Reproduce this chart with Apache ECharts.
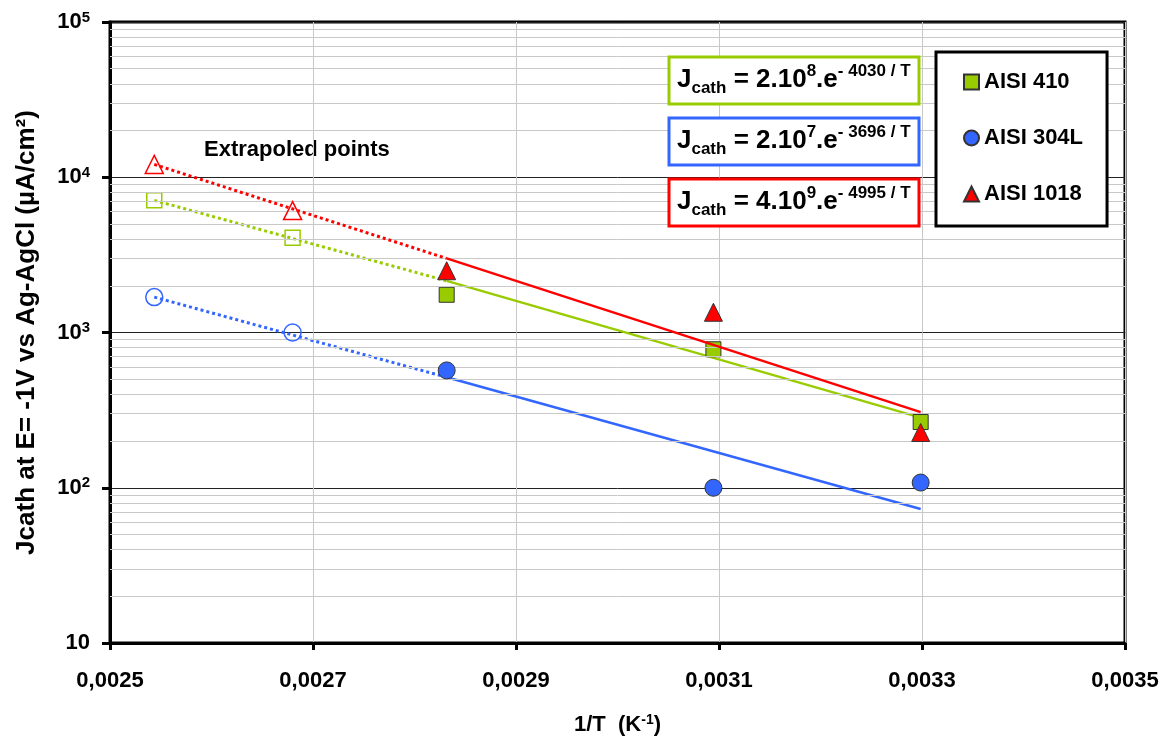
<!DOCTYPE html>
<html>
<head>
<meta charset="utf-8">
<script src="https://cdn.jsdelivr.net/npm/echarts@6/dist/echarts.min.js"></script>
<style>
  html, body { margin: 0; padding: 0; background: #fff; }
  #chart { width: 1166px; height: 742px; }
</style>
</head>
<body>
<div id="chart"></div>
<script>
// 1/T values (K-1): 120, 100, 80, 50, 30 °C
const invT = [0.0025436, 0.0026799, 0.0028317, 0.0030945, 0.0032987];

// measured points (at invT[2..4])
const aisi410 = [1750, 780, 265];
const aisi304L = [570, 100, 108];
const aisi1018 = [2500, 1350, 227];

// extrapoled points (at invT[0..1])
const ext410 = [7100, 4075];
const ext304L = [1690, 1000];
const ext1018 = [12100, 6100];

// fit lines, values at invT[0], invT[2], invT[4]
const fit410 = [7100, 2150, 283];
const fit304L = [1690, 515, 73];
const fit1018 = [12100, 3000, 307];

// log axis minor grid lines
const minorTicks = [20, 30, 40, 50, 60, 70, 80, 90,
  200, 300, 400, 500, 600, 700, 800, 900,
  2000, 3000, 4000, 5000, 6000, 7000, 8000, 9000,
  20000, 30000, 40000, 50000, 60000, 70000, 80000, 90000];

const equations = [
  { color: '#99CC00', mant: '2', exp: '8', act: '- 4030 / T', y: 57 },
  { color: '#3366FF', mant: '2', exp: '7', act: '- 3696 / T', y: 118 },
  { color: '#FF0000', mant: '4', exp: '9', act: '- 4995 / T', y: 179 }
];

const FONT = 'Liberation Sans, Arial, sans-serif';
const GREEN = '#99CC00', BLUE = '#3366FF', RED = '#FF0000';

function pts(xs, ys) {
  return ys.map(function (v, i) { return [xs[i], v]; });
}

function fitSeries(color, vals, dotted, z) {
  const xs = dotted ? [invT[0], invT[2]] : [invT[2], invT[4]];
  const ys = dotted ? [vals[0], vals[1]] : [vals[1], vals[2]];
  return {
    type: 'line',
    data: pts(xs, ys),
    showSymbol: false,
    symbol: 'none',
    z: z,
    silent: true,
    lineStyle: dotted
      ? { color: color, width: 3, type: [3, 3] }
      : { color: color, width: 2.5 }
  };
}

function markSeries(name, symbol, size, color, vals, z) {
  return {
    name: name,
    type: 'scatter',
    symbol: symbol,
    symbolSize: size,
    z: z,
    data: pts(invT.slice(2), vals),
    itemStyle: { color: color, borderColor: '#333', borderWidth: 1, opacity: 1 }
  };
}

function hollowSeries(symbol, size, color, vals, z) {
  return {
    type: 'scatter',
    symbol: symbol,
    symbolSize: size,
    z: z,
    data: pts(invT.slice(0, 2), vals),
    itemStyle: { color: 'rgba(255,255,255,0)', borderColor: color, borderWidth: 1.5, opacity: 1 }
  };
}

const chart = echarts.init(document.getElementById('chart'));

const graphics = [{
  type: 'text',
  left: 204,
  top: 139,
  style: { text: 'Extrapoled points', font: 'bold 22px ' + FONT, fill: '#000' }
}];
equations.forEach(function (e) {
  graphics.push({
    type: 'rect',
    shape: { x: 669, y: e.y, width: 250, height: 47 },
    style: { fill: '#fff', stroke: e.color, lineWidth: 3 },
    z: 20
  });
  graphics.push({
    type: 'text',
    x: 677,
    y: e.y + 6,
    z: 21,
    style: {
      text: '{b|J}{sub|cath}{b| = ' + e.mant + '.10}{sup|' + e.exp + '}{b|.e}{sup|' + e.act + '}',
      rich: {
        b: { font: 'bold 26px ' + FONT, fill: '#000', lineHeight: 34, verticalAlign: 'middle' },
        sub: { font: 'bold 17px ' + FONT, fill: '#000', lineHeight: 17, verticalAlign: 'bottom' },
        sup: { font: 'bold 17px ' + FONT, fill: '#000', lineHeight: 17, verticalAlign: 'top' }
      }
    }
  });
});

chart.setOption({
  animation: false,
  backgroundColor: '#fff',
  textStyle: { fontFamily: FONT },
  grid: {
    left: 110, right: 41, top: 22, bottom: 93,
    show: true, borderColor: '#000', borderWidth: 3, backgroundColor: '#fff'
  },
  legend: {
    orient: 'vertical',
    left: 936,
    top: 52,
    padding: [19, 24, 21, 27],
    itemGap: 34,
    itemWidth: 15,
    itemHeight: 15,
    borderColor: '#000',
    borderWidth: 3,
    backgroundColor: '#fff',
    z: 20,
    textStyle: { fontSize: 22, fontWeight: 'bold', color: '#000', lineHeight: 22, fontFamily: FONT },
    data: [
      { name: 'AISI 410', icon: 'rect' },
      { name: 'AISI 304L', icon: 'circle' },
      { name: 'AISI 1018', icon: 'triangle' }
    ]
  },
  graphic: graphics,
  xAxis: {
    type: 'value',
    min: 0.0025,
    max: 0.0035,
    interval: 0.0002,
    name: '1/T  (K{s|-1})',
    nameLocation: 'middle',
    nameGap: 70,
    nameTextStyle: {
      fontSize: 22, fontWeight: 'bold', color: '#000', fontFamily: FONT, lineHeight: 24,
      rich: { s: { fontSize: 14, fontWeight: 'bold', color: '#000', lineHeight: 14, verticalAlign: 'top' } }
    },
    axisLine: { lineStyle: { color: '#000', width: 3 } },
    axisTick: { show: true, length: 7, lineStyle: { color: '#000', width: 3 } },
    axisLabel: {
      fontSize: 22, fontWeight: 'bold', color: '#000', margin: 27, fontFamily: FONT,
      formatter: function (v) { return v.toFixed(4).replace('.', ','); }
    },
    splitLine: { show: true, lineStyle: { color: '#c8c8c8', width: 1 } }
  },
  yAxis: {
    type: 'log',
    logBase: 10,
    min: 10,
    max: 100000,
    name: 'Jcath at E= -1V vs Ag-AgCl (µA/cm²)',
    nameLocation: 'middle',
    nameRotate: 90,
    nameGap: 70,
    nameTextStyle: { fontSize: 26, fontWeight: 'bold', color: '#000', fontFamily: FONT },
    axisLine: { show: true, lineStyle: { color: '#000', width: 3 } },
    axisTick: { show: true, length: 8, lineStyle: { color: '#000', width: 3 } },
    axisLabel: {
      fontSize: 22, fontWeight: 'bold', color: '#000', margin: 20, fontFamily: FONT, lineHeight: 24,
      formatter: function (v) {
        const e = Math.round(Math.log10(v));
        return e === 1 ? '10' : '10{s|' + e + '}';
      },
      rich: { s: { fontSize: 15, fontWeight: 'bold', color: '#000', lineHeight: 15, verticalAlign: 'top' } }
    },
    splitLine: { show: true, lineStyle: { color: '#222', width: 1 } },
    minorTick: { show: false },
    minorSplitLine: { show: false }
  },
  series: [
    {
      type: 'scatter',
      data: [],
      z: 1,
      silent: true,
      markLine: {
        silent: true,
        symbol: ['none', 'none'],
        label: { show: false },
        lineStyle: { color: '#c8c8c8', type: 'solid', width: 1 },
        data: minorTicks.map(function (v) { return { yAxis: v }; })
      }
    },
    fitSeries(GREEN, fit410, true, 2),
    fitSeries(GREEN, fit410, false, 2),
    hollowSeries('rect', 15, GREEN, ext410, 3),
    markSeries('AISI 410', 'rect', 15, GREEN, aisi410, 3),
    fitSeries(BLUE, fit304L, true, 4),
    fitSeries(BLUE, fit304L, false, 4),
    hollowSeries('circle', 17, BLUE, ext304L, 5),
    markSeries('AISI 304L', 'circle', 17, BLUE, aisi304L, 5),
    fitSeries(RED, fit1018, true, 6),
    fitSeries(RED, fit1018, false, 6),
    hollowSeries('triangle', 18, RED, ext1018, 7),
    markSeries('AISI 1018', 'triangle', 18, RED, aisi1018, 7)
  ]
});
</script>
</body>
</html>
